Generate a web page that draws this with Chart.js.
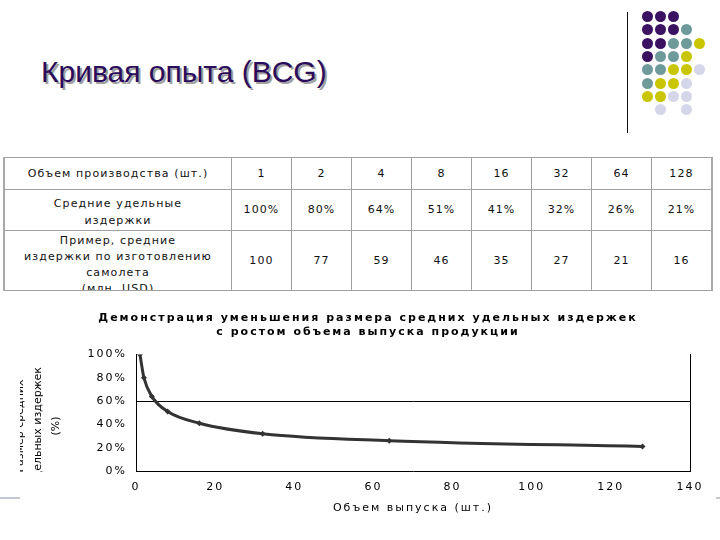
<!DOCTYPE html>
<html>
<head>
<meta charset="utf-8">
<script src="https://cdn.jsdelivr.net/npm/chart.js@4.4.1/dist/chart.umd.min.js"></script>
<style>
  body { margin: 0; width: 720px; height: 540px; background: #fff; position: relative; overflow: hidden; font-family: "DejaVu Sans", sans-serif; }
  #title { position: absolute; left: 41px; top: 57px; font: 30px "Liberation Sans", Arial, sans-serif; line-height: 1; color: #2b0c5c; text-shadow: 2px 2px 0 #a0a0a0; white-space: nowrap; }
  #vline { position: absolute; left: 627px; top: 12px; width: 1px; height: 121px; background: #111; }
  .dot { position: absolute; width: 11px; height: 11px; border-radius: 50%; }
  #hline { position: absolute; left: 0; top: 497px; width: 720px; height: 2px; background: #c6c6da; }
  #tbl { position: absolute; left: 3px; top: 157px; border-collapse: collapse; table-layout: fixed; font-size: 11px; letter-spacing: 1.1px; color: #111; }
  #tbl td { border: 1px solid #a0a0a0; text-align: center; padding: 0; overflow: hidden; line-height: 16px; }
  #tbl td:first-child { border-left: 2px solid #a8a8a8; width: 226px; }
  #tbl td:last-child { border-right: 2px solid #a8a8a8; }
  #tbl td.two { line-height: 17px; padding-top: 4px; }
  #tbl td.top { vertical-align: top; }
  #tbl td.top div { height: 59px; overflow: hidden; padding-top: 2px; box-sizing: border-box; }
  #chartBox { position: absolute; left: 20px; top: 300px; width: 696px; height: 225px; background: #fff; }
</style>
</head>
<body>
<div id="title">Кривая опыта (BCG)</div>
<div id="vline"></div>
<div id="dots"></div>
<div id="hline"></div>
<table id="tbl"></table>
<div id="chartBox"><canvas id="myChart"></canvas></div>
<script>
// table + chart values
const volumes = [1, 2, 4, 8, 16, 32, 64, 128];
const unitCostPct = [100, 80, 64, 51, 41, 32, 26, 21];
const planeCost = [100, 77, 59, 46, 35, 27, 21, 16];
const rowLabels = ['Объем производства (шт.)', 'Средние удельные<br>издержки', 'Пример, средние<br>издержки по изготовлению<br>самолета<br>(млн. USD)'];
const xTicks = { min: 0, max: 140, step: 20 };
const yTicks = { min: 0, max: 100, step: 20 };
const chartTitle = ['Демонстрация уменьшения размера средних удельных издержек', 'с ростом объема выпуска продукции'];
const xTitle = 'Объем выпуска (шт.)';
const yTitleLines = ['Размер средних', 'удельных издержек', '(%)'];

// decoration dots, P purple, T teal, Y yellow, L lavender
const dotRows = ['PPP..', 'PPPT.', 'PPTTY', 'PTTY.', 'TTYYL', 'TYYL.', 'YYLL.', '.L.L.'];
const dotColors = { P: '#3b1262', T: '#6e9a9c', Y: '#c9c600', L: '#d6d6ea' };
var dotsEl = document.getElementById('dots');
dotRows.forEach(function(row, r) {
	for (let c = 0; c < row.length; c++) {
		if (row[c] === '.') continue;
		var d = document.createElement('div');
		d.className = 'dot';
		d.style.left = (642 + c * 13) + 'px';
		d.style.top = (11 + r * 13.3) + 'px';
		d.style.background = dotColors[row[c]];
		dotsEl.appendChild(d);
	}
});

// table
var rows = [volumes, unitCostPct.map((v) => v + '%'), planeCost];
var heights = [32, 41, 59];
var html = '';
rows.forEach(function(vals, i) {
	html += '<tr style="height:' + heights[i] + 'px">';
	if (i === 2) html += '<td class="top"><div>' + rowLabels[i] + '</div></td>';
	else if (i === 1) html += '<td class="two">' + rowLabels[i] + '</td>';
	else html += '<td>' + rowLabels[i] + '</td>';
	vals.forEach((v) => { html += '<td style="width:59px">' + v + '</td>'; });
	html += '</tr>';
});
document.getElementById('tbl').innerHTML = html;

// chart
Chart.defaults.font.family = '"DejaVu Sans", sans-serif';
Chart.defaults.color = '#000';

const spacingPlugin = {
	id: 'spacing',
	beforeLayout(chart) { chart.ctx.letterSpacing = '2px'; },
	beforeDraw(chart) { chart.ctx.letterSpacing = '2px'; }
};

const yTitlePlugin = {
	id: 'yTitle',
	afterDraw(chart) {
		const ctx = chart.ctx;
		ctx.save();
		ctx.letterSpacing = '0px';
		ctx.beginPath();
		ctx.rect(0, 0, chart.width, 172);
		ctx.clip();
		ctx.translate(18, 126);
		ctx.rotate(-Math.PI / 2);
		ctx.font = '11px "DejaVu Sans"';
		ctx.fillStyle = '#000';
		ctx.textAlign = 'center';
		ctx.textBaseline = 'middle';
		const offs = [-18, 0, 18];
		yTitleLines.forEach((t, i) => ctx.fillText(t, 0, offs[i]));
		ctx.restore();
	}
};

myChart = new Chart(document.getElementById('myChart'), {
	type: 'line',
	data: {
		datasets: [{
			data: volumes.map((v, i) => ({ x: v, y: unitCostPct[i] })),
			borderColor: '#333',
			backgroundColor: '#333',
			borderWidth: 3,
			cubicInterpolationMode: 'monotone',
			pointStyle: 'rectRot',
			pointRadius: 3,
			pointBorderWidth: 0,
			fill: false
		}]
	},
	options: {
		responsive: true,
		maintainAspectRatio: false,
		animation: false,
		layout: { padding: 0 },
		plugins: {
			legend: { display: false },
			tooltip: { enabled: false },
			title: {
				display: true,
				text: chartTitle,
				color: '#000',
				font: { size: 11, weight: 'bold', lineHeight: 1.2 },
				padding: { top: 12, bottom: 16 }
			}
		},
		scales: {
			x: {
				type: 'linear',
				min: xTicks.min, max: xTicks.max,
				ticks: { stepSize: xTicks.step, padding: 10, font: { size: 11 } },
				grid: { display: false, drawTicks: false },
				border: { color: '#000' },
				title: { display: true, text: xTitle, font: { size: 11 }, padding: { top: 0, bottom: 10 } },
				afterFit: (s) => { s.height = 54; }
			},
			y: {
				min: yTicks.min, max: yTicks.max,
				ticks: { stepSize: yTicks.step, padding: 9, font: { size: 11 }, callback: (v) => v + '%' },
				grid: { drawTicks: false, color: (c) => (c.tick && c.tick.value === 60 ? '#000' : 'rgba(0,0,0,0)') },
				border: { color: '#000' },
				afterFit: (s) => { s.width = 116; }
			},
			y2: {
				position: 'right',
				min: yTicks.min, max: yTicks.max,
				ticks: { display: false },
				grid: { display: false, drawTicks: false },
				border: { color: '#000' },
				afterFit: (s) => { s.width = 26; }
			}
		}
	},
	plugins: [spacingPlugin, yTitlePlugin]
});
</script>
</body>
</html>
